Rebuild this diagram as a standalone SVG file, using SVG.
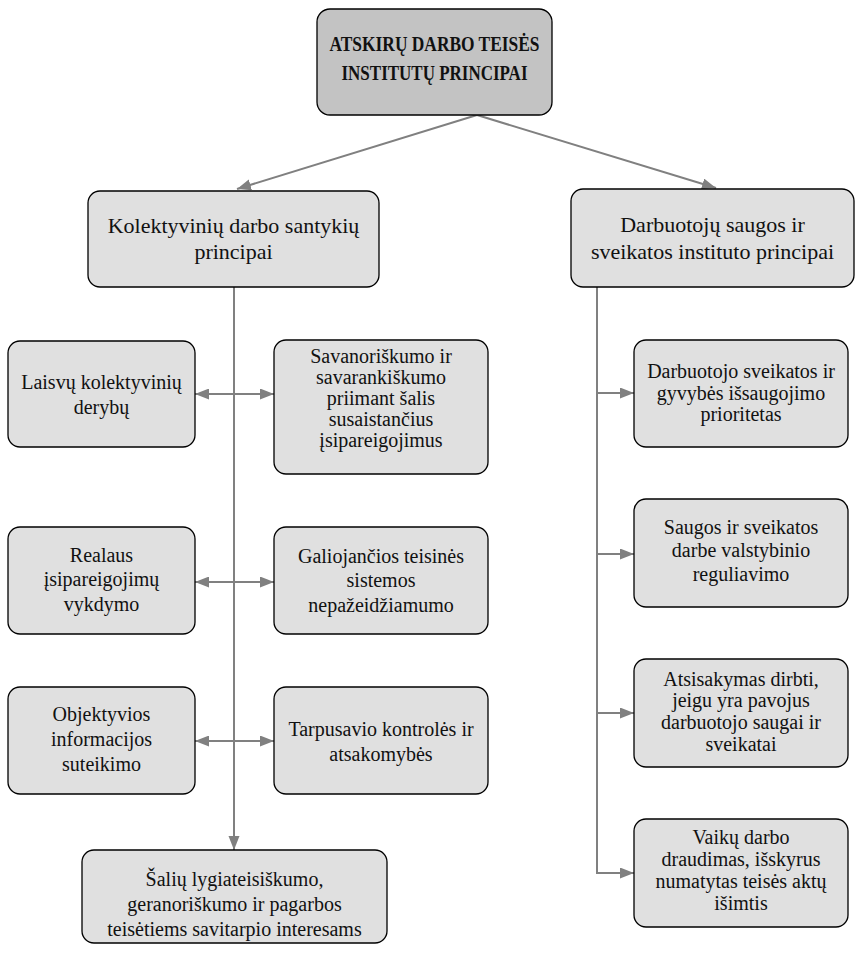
<svg xmlns="http://www.w3.org/2000/svg" width="857" height="953" viewBox="0 0 857 953">
  <style>
    .box { fill: #e0e0e0; stroke: #000; stroke-width: 1.3; }
    .title-box { fill: #c3c3c3; stroke: #000; stroke-width: 1.3; }
    text { font-family: "Liberation Serif", "Times New Roman", serif; fill: #111; text-anchor: middle; }
    .t { font-size: 20px; }
    .h { font-size: 22px; }
    .title { font-size: 20px; font-weight: bold; }
    .link { stroke: #808080; stroke-width: 2; fill: none; }
  </style>
  <defs>
    <marker id="arrowEnd" markerUnits="userSpaceOnUse" markerWidth="14" markerHeight="12" refX="14" refY="5.5" orient="auto">
      <path d="M0,0 L14,5.5 L0,11 z" fill="#808080"/>
    </marker>
    <marker id="arrowStart" markerUnits="userSpaceOnUse" markerWidth="14" markerHeight="12" refX="0" refY="5.5" orient="auto">
      <path d="M14,0 L0,5.5 L14,11 z" fill="#808080"/>
    </marker>
  </defs>

  <!-- connectors -->
  <g id="connectors">
    <line class="link" x1="477" y1="115" x2="237" y2="189" marker-end="url(#arrowEnd)"/>
    <line class="link" x1="477" y1="115" x2="716" y2="188" marker-end="url(#arrowEnd)"/>
    <!-- left trunk -->
    <line class="link" x1="234" y1="287" x2="234" y2="850" marker-end="url(#arrowEnd)"/>
    <line class="link" x1="195" y1="394" x2="274" y2="394" marker-start="url(#arrowStart)" marker-end="url(#arrowEnd)"/>
    <line class="link" x1="195" y1="582" x2="274" y2="582" marker-start="url(#arrowStart)" marker-end="url(#arrowEnd)"/>
    <line class="link" x1="195" y1="741" x2="274" y2="741" marker-start="url(#arrowStart)" marker-end="url(#arrowEnd)"/>
    <!-- right trunk -->
    <polyline class="link" points="597,287 597,873 634,873" marker-end="url(#arrowEnd)"/>
    <line class="link" x1="597" y1="393" x2="634" y2="393" marker-end="url(#arrowEnd)"/>
    <line class="link" x1="597" y1="554" x2="634" y2="554" marker-end="url(#arrowEnd)"/>
    <line class="link" x1="597" y1="713" x2="634" y2="713" marker-end="url(#arrowEnd)"/>
  </g>

  <g id="title">
    <rect class="title-box" x="317" y="9" width="235" height="106" rx="13"/>
    <text class="title" x="434.5" y="51" textLength="210" lengthAdjust="spacingAndGlyphs">ATSKIRŲ DARBO TEISĖS</text>
    <text class="title" x="434.5" y="80" textLength="186" lengthAdjust="spacingAndGlyphs">INSTITUTŲ PRINCIPAI</text>
  </g>

  <g id="collective">
    <rect class="box" x="88" y="191" width="291" height="96" rx="12"/>
    <text class="h" x="233.5" y="233">Kolektyvinių darbo santykių</text>
    <text class="h" x="233.5" y="259">principai</text>
  </g>

  <g id="safety">
    <rect class="box" x="571" y="189" width="283" height="98" rx="12"/>
    <text class="h" x="712.5" y="232">Darbuotojų saugos ir</text>
    <text class="h" x="712.5" y="259">sveikatos instituto principai</text>
  </g>

  <g id="free-negotiation">
    <rect class="box" x="8" y="341" width="187" height="106" rx="12"/>
    <text class="t" x="101.5" y="389">Laisvų kolektyvinių</text>
    <text class="t" x="101.5" y="414">derybų</text>
  </g>

  <g id="voluntariness">
    <rect class="box" x="274" y="340" width="214" height="134" rx="12"/>
    <text class="t" x="381" y="363">Savanoriškumo ir</text>
    <text class="t" x="381" y="384">savarankiškumo</text>
    <text class="t" x="381" y="405">priimant šalis</text>
    <text class="t" x="381" y="426">susaistančius</text>
    <text class="t" x="381" y="447">įsipareigojimus</text>
  </g>

  <g id="real-fulfilment">
    <rect class="box" x="8" y="527" width="187" height="107" rx="12"/>
    <text class="t" x="101.5" y="562">Realaus</text>
    <text class="t" x="101.5" y="586">įsipareigojimų</text>
    <text class="t" x="101.5" y="611">vykdymo</text>
  </g>

  <g id="legal-system">
    <rect class="box" x="274" y="527" width="214" height="107" rx="12"/>
    <text class="t" x="381" y="563">Galiojančios teisinės</text>
    <text class="t" x="381" y="587">sistemos</text>
    <text class="t" x="381" y="612">nepažeidžiamumo</text>
  </g>

  <g id="information">
    <rect class="box" x="8" y="687" width="187" height="107" rx="12"/>
    <text class="t" x="101.5" y="721">Objektyvios</text>
    <text class="t" x="101.5" y="746">informacijos</text>
    <text class="t" x="101.5" y="771">suteikimo</text>
  </g>

  <g id="mutual-control">
    <rect class="box" x="274" y="687" width="214" height="107" rx="12"/>
    <text class="t" x="381" y="736">Tarpusavio kontrolės ir</text>
    <text class="t" x="381" y="761">atsakomybės</text>
  </g>

  <g id="equality">
    <rect class="box" x="82" y="850" width="305" height="93" rx="12"/>
    <text class="t" x="234.5" y="886">Šalių lygiateisiškumo,</text>
    <text class="t" x="234.5" y="911">geranoriškumo ir pagarbos</text>
    <text class="t" x="234.5" y="936">teisėtiems savitarpio interesams</text>
  </g>

  <g id="health-priority">
    <rect class="box" x="634" y="340" width="214" height="107" rx="12"/>
    <text class="t" x="741" y="378">Darbuotojo sveikatos ir</text>
    <text class="t" x="741" y="400">gyvybės išsaugojimo</text>
    <text class="t" x="741" y="421">prioritetas</text>
  </g>

  <g id="state-regulation">
    <rect class="box" x="634" y="499" width="214" height="108" rx="12"/>
    <text class="t" x="741" y="534">Saugos ir sveikatos</text>
    <text class="t" x="741" y="557">darbe valstybinio</text>
    <text class="t" x="741" y="581">reguliavimo</text>
  </g>

  <g id="refusal">
    <rect class="box" x="634" y="659" width="214" height="108" rx="12"/>
    <text class="t" x="741" y="686">Atsisakymas dirbti,</text>
    <text class="t" x="741" y="707">jeigu yra pavojus</text>
    <text class="t" x="741" y="729">darbuotojo saugai ir</text>
    <text class="t" x="741" y="751">sveikatai</text>
  </g>

  <g id="child-labour">
    <rect class="box" x="634" y="819" width="214" height="108" rx="12"/>
    <text class="t" x="741" y="844">Vaikų darbo</text>
    <text class="t" x="741" y="866">draudimas, išskyrus</text>
    <text class="t" x="741" y="888">numatytas teisės aktų</text>
    <text class="t" x="741" y="910">išimtis</text>
  </g>
</svg>
